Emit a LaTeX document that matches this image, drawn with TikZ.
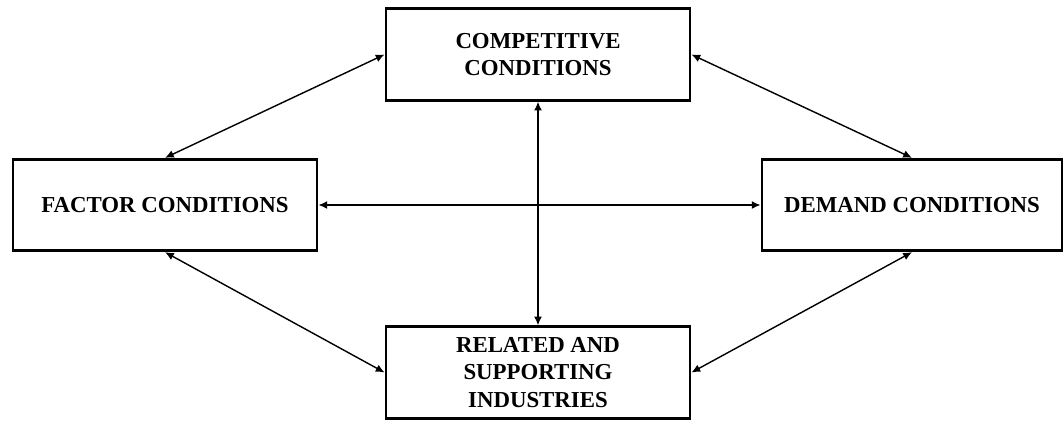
\documentclass[tikz,border=0pt]{standalone}
\usepackage{fontspec}
\setmainfont{Liberation Serif}
\usepackage{tikz}
\usetikzlibrary{positioning, arrows.meta}

\begin{document}
\begin{tikzpicture}[
  every node/.style={font=\fontsize{13}{15.4}\selectfont\bfseries},
  cond/.style={
    draw, line width=1.6pt, align=center,
    minimum width=6.08cm, minimum height=1.83cm
  },
  link/.style={{Latex[length=5pt,width=4.5pt]}-{Latex[length=5pt,width=4.5pt]}, line width=0.8pt},
]
\useasboundingbox (0,0) rectangle (21.28,-8.42);

\node[cond] (comp) at (10.76,-1.09) {COMPETITIVE\\CONDITIONS};
\node[cond] (factor) at (3.30,-4.10) {FACTOR CONDITIONS};
\node[cond, minimum width=6.0cm] (demand) at (18.24,-4.10) {DEMAND CONDITIONS};
\node[cond] (related) at (10.76,-7.45) {RELATED AND\\SUPPORTING\\INDUSTRIES};

% Links between the four conditions
\draw[link] (comp.west) -- (factor.north);
\draw[link] (comp.east) -- (demand.north);
\draw[link] (comp.south) -- (related.north);
\draw[link] (factor.east) -- (demand.west);
\draw[link] (factor.south) -- (related.west);
\draw[link] (demand.south) -- (related.east);

\end{tikzpicture}
\end{document}
